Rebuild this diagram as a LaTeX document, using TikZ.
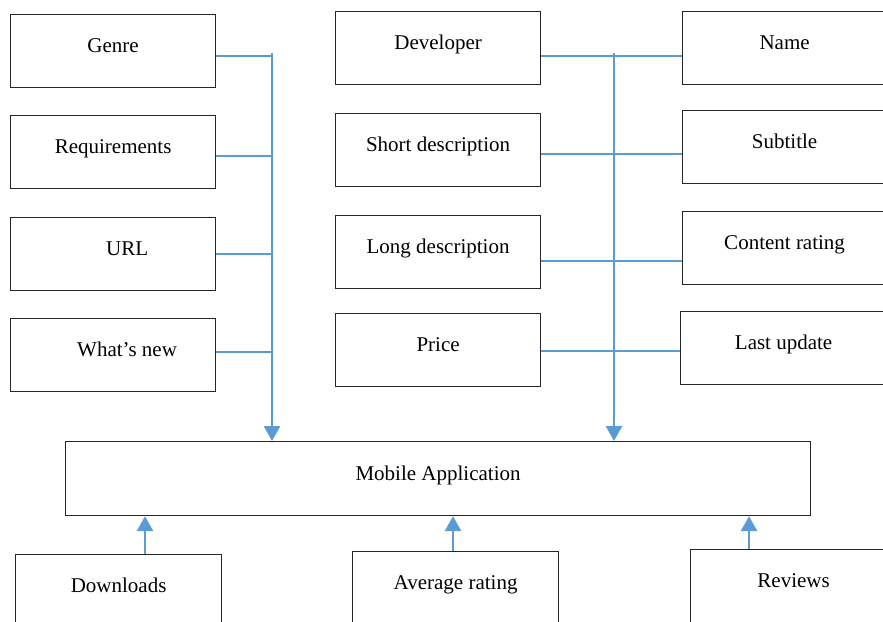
\documentclass[tikz,border=0pt]{standalone}
\usepackage{fontspec}
\setmainfont{Liberation Serif}
\usetikzlibrary{arrows.meta,calc}
\definecolor{conn}{RGB}{91,155,213}
\begin{document}
\begin{tikzpicture}[x=1pt,y=-1pt,
  box/.style={draw=black!85, line width=1.2pt, inner sep=0pt, minimum width=205pt,
    text height=38pt, text depth=35pt, anchor=north west, font=\fontsize{21}{25}\selectfont},
  link/.style={draw=conn, line width=2.9pt},
  arr/.style={link, -{Triangle[width=16pt,length=15pt]}}]
\useasboundingbox (0,0) rectangle (883,621);
\clip (0,0) rectangle (883,621);
% left column
\node[box] (genre) at (10,14) {Genre};
\node[box] (req) at (10,115) {Requirements};
\node[box] (url) at (10,217) {\hspace*{28pt}URL};
\node[box] (new) at (10,318) {\hspace*{28pt}What’s new};
% middle column
\node[box] (dev) at (335,11) {Developer};
\node[box] (short) at (335,113) {Short description};
\node[box] (long) at (335,215) {Long description};
\node[box] (price) at (335,313) {Price};
% right column
\node[box, minimum width=204pt] (name) at (682,11) {Name};
\node[box, minimum width=204pt] (sub) at (682,110) {Subtitle};
\node[box, minimum width=204pt] (rating) at (682,211) {Content rating};
\node[box, minimum width=206pt] (upd) at (680,311) {Last update};
% main
\node[box, minimum width=745pt, text height=39pt] (app) at (65,441) {Mobile Application};
% bottom
\node[box, minimum width=206pt] (down) at (15,554) {Downloads};
\node[box, minimum width=206pt] (avg) at (352,551) {Average rating};
\node[box, minimum width=206pt] (rev) at (690,549) {Reviews};
% buses
\coordinate (busL) at (272,53);
\coordinate (busR) at (614,53);
\draw[arr] (busL) -- (busL |- app.north);
\draw[arr] (busR) -- (busR |- app.north);
% left rows
\coordinate (l1) at (0,56);
\coordinate (l2) at (0,156);
\coordinate (l3) at (0,254);
\coordinate (l4) at (0,352);
\draw[link] (genre.east |- l1) -- (busL |- l1);
\draw[link] (req.east |- l2) -- (busL |- l2);
\draw[link] (url.east |- l3) -- (busL |- l3);
\draw[link] (new.east |- l4) -- (busL |- l4);
% right rows
\coordinate (r1) at (0,56);
\coordinate (r2) at (0,154);
\coordinate (r3) at (0,261);
\coordinate (r4) at (0,351);
\draw[link] (dev.east |- r1) -- (name.west |- r1);
\draw[link] (short.east |- r2) -- (sub.west |- r2);
\draw[link] (long.east |- r3) -- (rating.west |- r3);
\draw[link] (price.east |- r4) -- (upd.west |- r4);
% bottom arrows
\coordinate (a1) at (145,0);
\coordinate (a2) at (453,0);
\coordinate (a3) at (749,0);
\draw[arr] (down.north -| a1) -- (app.south -| a1);
\draw[arr] (avg.north -| a2) -- (app.south -| a2);
\draw[arr] (rev.north -| a3) -- (app.south -| a3);
\end{tikzpicture}
\end{document}
